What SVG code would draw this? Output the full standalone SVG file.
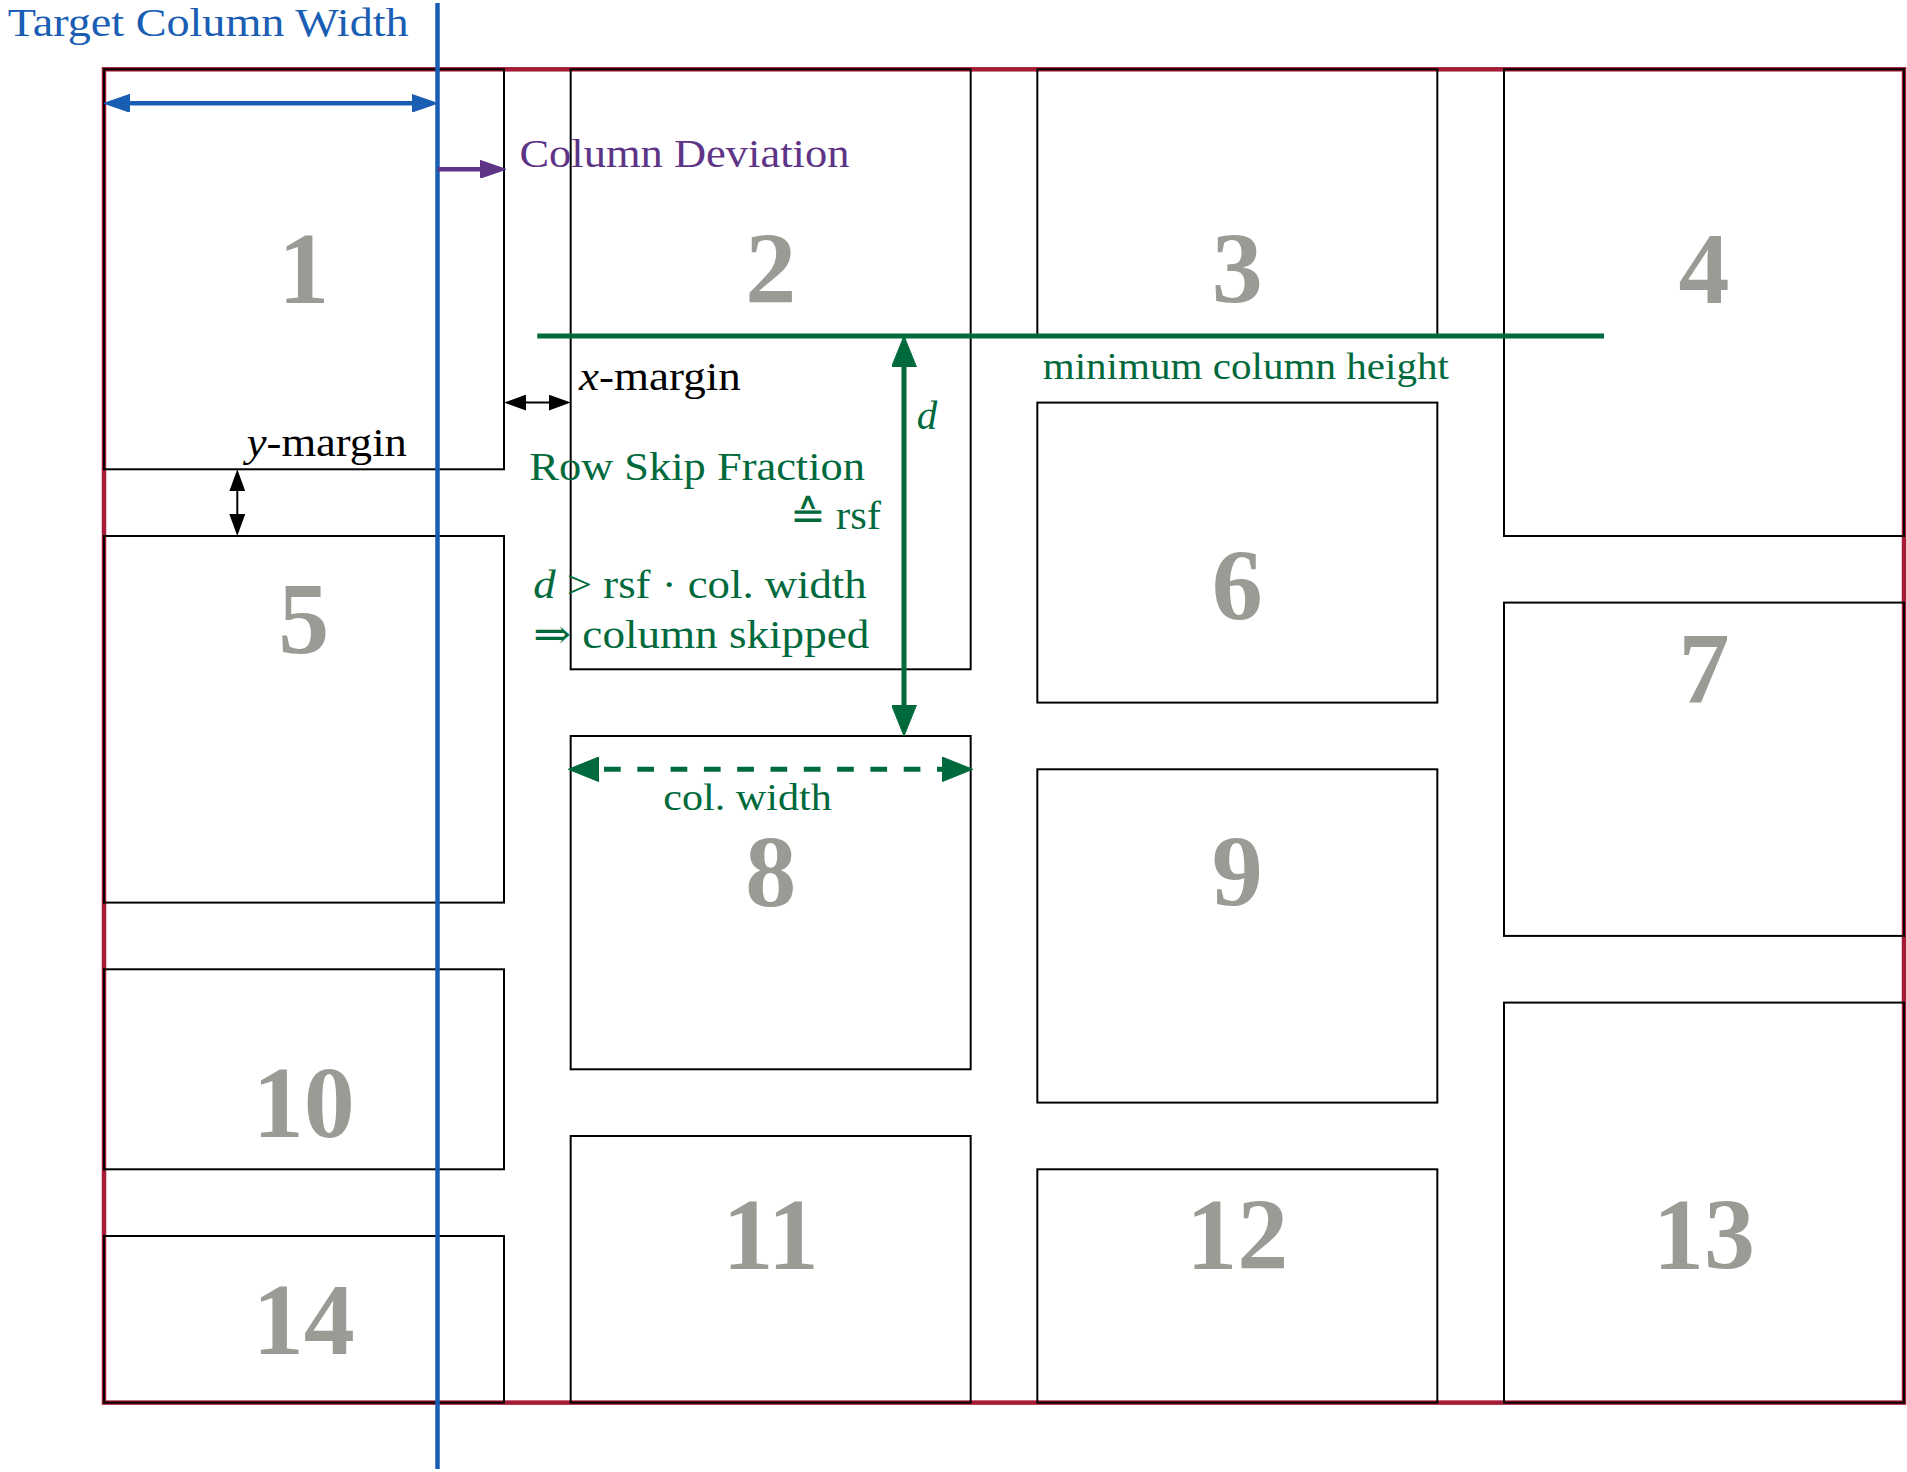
<svg xmlns="http://www.w3.org/2000/svg" width="1907" height="1472" viewBox="0 0 1907 1472">
<style>
text { font-family: "Liberation Serif", "DejaVu Serif", serif; }
.lbl { font-size: 41px; }
.sm { font-size: 38px; }
.it { font-style: italic; }
.num { font-size: 102px; font-weight: bold; fill: #9b9b96; text-anchor: middle; }
.box { fill: none; stroke: #000; stroke-width: 2; }
.blue { fill: #1a5eb4; }
.purple { fill: #5e3487; }
.green { fill: #006a3c; }
.black { fill: #000; }
</style>
<defs>
<marker id="mBlue" markerUnits="userSpaceOnUse" viewBox="0 0 26 18" markerWidth="26" markerHeight="18" refX="18" refY="9" orient="auto-start-reverse"><path d="M0,0 L26,9 L0,18 Z" fill="#1a5eb4" stroke="#1a5eb4" stroke-width="1" stroke-linejoin="round"/></marker>
<marker id="mPurple" markerUnits="userSpaceOnUse" viewBox="0 0 26 18" markerWidth="26" markerHeight="18" refX="18" refY="9" orient="auto-start-reverse"><path d="M0,0 L26,9 L0,18 Z" fill="#5e3487" stroke="#5e3487" stroke-width="1" stroke-linejoin="round"/></marker>
<marker id="mGreen" markerUnits="userSpaceOnUse" viewBox="0 0 31 25" markerWidth="31" markerHeight="25" refX="21" refY="12.5" orient="auto-start-reverse"><path d="M0,0 L31,12.5 L0,25 Z" fill="#006a3c" stroke="#006a3c" stroke-width="1" stroke-linejoin="round"/></marker>
<marker id="mBlack" markerUnits="userSpaceOnUse" viewBox="0 0 22 16" markerWidth="22" markerHeight="16" refX="18" refY="8" orient="auto-start-reverse"><path d="M0,0 L22,8 L0,16 Z" fill="#000"/></marker>
</defs>
<rect x="0" y="0" width="1907" height="1472" fill="#fff"/>
<rect id="frame" x="104" y="69.3" width="1800" height="1333.3" fill="none" stroke="#a51c36" stroke-width="4.5"/>

<g id="box1"><rect class="box" x="104" y="69.3" width="400" height="400"/><text class="num" x="303.7" y="302.7">1</text></g>
<g id="box5"><rect class="box" x="104" y="536" width="400" height="366.6"/><text class="num" x="303.7" y="653">5</text></g>
<g id="box10"><rect class="box" x="104" y="969.3" width="400" height="200"/><text class="num" x="303.7" y="1136.7">10</text></g>
<g id="box14"><rect class="box" x="104" y="1236" width="400" height="166.6"/><text class="num" x="303.7" y="1353.6">14</text></g>
<g id="box2"><rect class="box" x="570.67" y="69.3" width="400" height="600"/><text class="num" x="770.7" y="302.7">2</text></g>
<g id="box8"><rect class="box" x="570.67" y="736" width="400" height="333.3"/><text class="num" x="770.7" y="906">8</text></g>
<g id="box11"><rect class="box" x="570.67" y="1136" width="400" height="266.6"/><text class="num" x="770.7" y="1269.3">11</text></g>
<g id="box3"><rect class="box" x="1037.33" y="69.3" width="400" height="266.7"/><text class="num" x="1237.3" y="302.7">3</text></g>
<g id="box6"><rect class="box" x="1037.33" y="402.6" width="400" height="300"/><text class="num" x="1237.3" y="620.3">6</text></g>
<g id="box9"><rect class="box" x="1037.33" y="769.3" width="400" height="333.3"/><text class="num" x="1237.3" y="906">9</text></g>
<g id="box12"><rect class="box" x="1037.33" y="1169.3" width="400" height="233.3"/><text class="num" x="1237.3" y="1269.3">12</text></g>
<g id="box4"><rect class="box" x="1504" y="69.3" width="400" height="466.7"/><text class="num" x="1704" y="302.7">4</text></g>
<g id="box7"><rect class="box" x="1504" y="602.6" width="400" height="333.3"/><text class="num" x="1704" y="703">7</text></g>
<g id="box13"><rect class="box" x="1504" y="1002.6" width="400" height="400"/><text class="num" x="1704" y="1269.3">13</text></g>

<g id="connectors">
<line x1="437.5" y1="3" x2="437.5" y2="1469" stroke="#1a5eb4" stroke-width="4.5"/>
<line x1="112" y1="103.3" x2="429.5" y2="103.3" stroke="#1a5eb4" stroke-width="4.5" marker-start="url(#mBlue)" marker-end="url(#mBlue)"/>
<line x1="437.5" y1="169.3" x2="498" y2="169.3" stroke="#5e3487" stroke-width="4.5" marker-end="url(#mPurple)"/>
<line x1="508" y1="402.6" x2="566.7" y2="402.6" stroke="#000" stroke-width="2" marker-start="url(#mBlack)" marker-end="url(#mBlack)"/>
<line x1="237.3" y1="473.3" x2="237.3" y2="532" stroke="#000" stroke-width="2" marker-start="url(#mBlack)" marker-end="url(#mBlack)"/>
<line x1="537.3" y1="336" x2="1604" y2="336" stroke="#006a3c" stroke-width="5"/>
<line x1="904" y1="346" x2="904" y2="726" stroke="#006a3c" stroke-width="5" marker-start="url(#mGreen)" marker-end="url(#mGreen)"/>
<line x1="578.3" y1="769.3" x2="962.7" y2="769.3" stroke="#006a3c" stroke-width="5" stroke-dasharray="16.7 16.6" stroke-dashoffset="7.6" marker-start="url(#mGreen)" marker-end="url(#mGreen)"/>
</g>

<g id="labels">
<text class="lbl blue" x="7.7" y="36" textLength="401" lengthAdjust="spacingAndGlyphs">Target Column Width</text>
<text class="lbl purple" x="519.4" y="167" textLength="330" lengthAdjust="spacingAndGlyphs">Column Deviation</text>
<text class="lbl black" x="579" y="390" textLength="161.7" lengthAdjust="spacingAndGlyphs"><tspan class="it">x</tspan>-margin</text>
<text class="lbl black" x="246.8" y="456" textLength="160" lengthAdjust="spacingAndGlyphs"><tspan class="it">y</tspan>-margin</text>
<text class="sm green" x="1042.7" y="379.3" textLength="406.3" lengthAdjust="spacingAndGlyphs">minimum column height</text>
<text class="lbl green it" x="916.7" y="429.3">d</text>
<text class="lbl green" x="529.3" y="480" textLength="335.7" lengthAdjust="spacingAndGlyphs">Row Skip Fraction</text>
<text class="lbl green" x="790" y="529.3" textLength="91" lengthAdjust="spacingAndGlyphs">≙ rsf</text>
<text class="lbl green" x="533.3" y="598.3" textLength="333.4" lengthAdjust="spacingAndGlyphs"><tspan class="it">d</tspan> &gt; rsf · col.  width</text>
<text class="lbl green" x="533.3" y="648.3" textLength="336" lengthAdjust="spacingAndGlyphs">⇒ column skipped</text>
<text class="sm green" x="663.3" y="810" textLength="168.4" lengthAdjust="spacingAndGlyphs">col. width</text>
</g>
</svg>
